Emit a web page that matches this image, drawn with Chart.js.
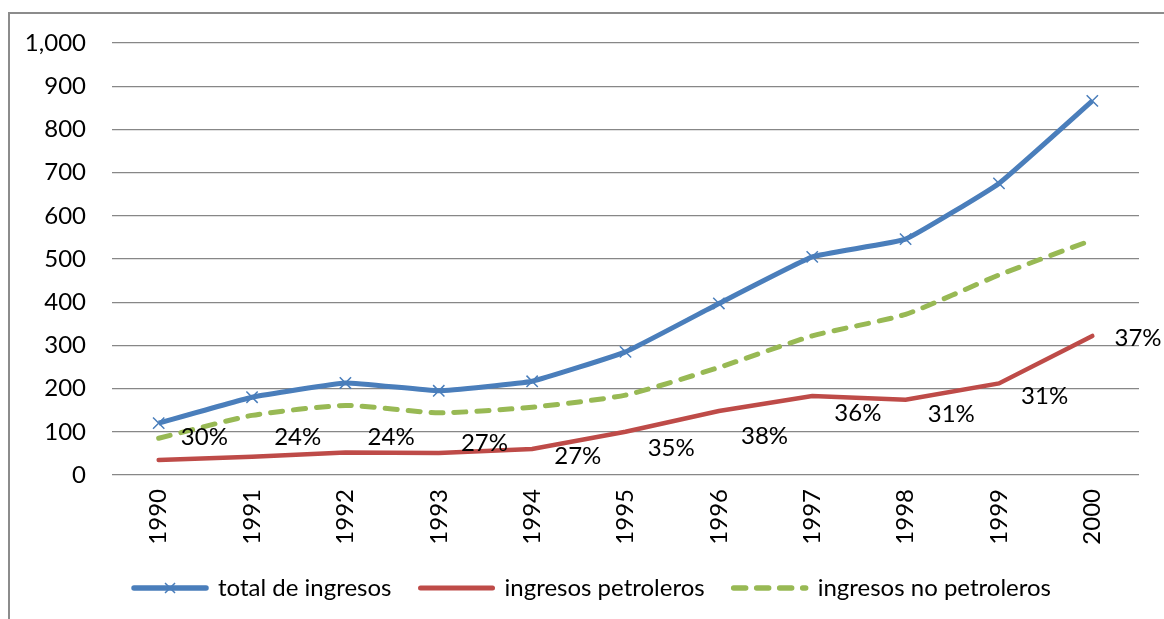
<!DOCTYPE html>
<html>
<head>
<meta charset="utf-8">
<script src="https://cdn.jsdelivr.net/npm/chart.js@4/dist/chart.umd.min.js"></script>
<style>
  body { margin: 0; background: #fff; }
</style>
</head>
<body>
<canvas id="myChart" width="1164" height="619"></canvas>
<script>
//years along the x axis
var years = ['1990', '1991', '1992', '1993', '1994', '1995', '1996', '1997', '1998', '1999', '2000'];

//the three series
var totalIngresos = [120, 180, 213, 195, 217, 285, 397, 505, 546, 675, 866];
var ingresosPetroleros = [35, 42, 52, 51, 60, 100, 148, 183, 174, 212, 322];
var ingresosNoPetroleros = [85, 138, 161, 144, 157, 185, 249, 322, 372, 463, 544];

//oil share labels next to the red line
var participacion = ['30%', '24%', '24%', '27%', '27%', '35%', '38%', '36%', '31%', '31%', '37%'];

//y axis ticks
var yTicks = [0, 100, 200, 300, 400, 500, 600, 700, 800, 900, 1000];

var blue = '#4A7EBB';
var red = '#BE4B48';
var green = '#98B954';
var gridGray = '#878787';

Chart.defaults.font.family = 'Lato';
Chart.defaults.font.size = 24;
Chart.defaults.color = '#000';

//white background and the frame on the left and top
var framePlugin = {
  id: 'frame',
  beforeDraw: function(chart) {
    var c = chart.ctx;
    c.save();
    c.fillStyle = '#fff';
    c.fillRect(0, 0, chart.width, chart.height);
    c.strokeStyle = '#8c8c8c';
    c.lineWidth = 2;
    c.beginPath();
    c.moveTo(9, chart.height);
    c.lineTo(9, 13);
    c.lineTo(chart.width, 13);
    c.stroke();
    c.restore();
  }
};

//nudge the legend a little to the right, like the original
var legendShift = {
  id: 'legendShift',
  afterLayout: function(chart) {
    chart.legend.left += 18;
    chart.legend.right += 18;
  }
};

//percent labels, placed half a category to the right of each red point
var shareLabels = {
  id: 'shareLabels',
  afterDatasetsDraw: function(chart, args, opts) {
    var c = chart.ctx;
    var xs = chart.scales.x, ys = chart.scales.y;
    var half = (xs.getPixelForValue(1) - xs.getPixelForValue(0)) / 2;
    c.save();
    c.font = '24px Lato';
    c.fillStyle = '#000';
    c.textAlign = 'center';
    c.textBaseline = 'middle';
    participacion.forEach(function(txt, i) {
      var x = xs.getPixelForValue(i) + half - 1;
      var y = ys.getPixelForValue(ingresosPetroleros[i]) + opts.dy[i];
      c.fillText(txt, x, y);
    });
    c.restore();
  }
};

//small x marker on the first legend sample
var legendMarker = {
  id: 'legendMarker',
  afterDraw: function(chart) {
    var box = chart.legend.legendHitBoxes[0];
    if (!box) return;
    var c = chart.ctx;
    var cx = box.left + 36;
    var cy = box.top + box.height / 2;
    c.save();
    c.strokeStyle = blue;
    c.lineWidth = 1.5;
    c.beginPath();
    c.moveTo(cx - 5, cy - 5); c.lineTo(cx + 5, cy + 5);
    c.moveTo(cx - 5, cy + 5); c.lineTo(cx + 5, cy - 5);
    c.stroke();
    c.restore();
  }
};

var ctx = document.getElementById('myChart').getContext('2d');

var myChart = new Chart(ctx, {
  type: 'line',
  data: {
    labels: years,
    datasets: [{
      label: 'total de ingresos',
      data: totalIngresos,
      borderColor: blue,
      backgroundColor: blue,
      borderWidth: 5,
      tension: 0.1,
      pointStyle: 'crossRot',
      pointRadius: 8,
      pointBorderWidth: 1.5,
      pointBorderColor: blue,
      order: 1
    }, {
      label: 'ingresos petroleros',
      data: ingresosPetroleros,
      borderColor: red,
      backgroundColor: red,
      borderWidth: 4.5,
      borderCapStyle: 'round',
      tension: 0,
      pointRadius: 0,
      order: 3
    }, {
      label: 'ingresos no petroleros',
      data: ingresosNoPetroleros,
      borderColor: green,
      backgroundColor: green,
      borderWidth: 5,
      borderDash: [12, 11],
      borderCapStyle: 'round',
      tension: 0.2,
      pointRadius: 0,
      order: 2
    }]
  },
  options: {
    responsive: false,
    animation: false,
    layout: {
      padding: { left: 10, right: 25, top: 43, bottom: 9 }
    },
    plugins: {
      legend: {
        position: 'bottom',
        labels: {
          usePointStyle: true,
          pointStyleWidth: 72,
          padding: 29,
          font: { size: 24 },
          generateLabels: function(chart) {
            return chart.data.datasets.map(function(ds, i) {
              return {
                text: ds.label,
                datasetIndex: i,
                pointStyle: 'line',
                strokeStyle: ds.borderColor,
                fillStyle: ds.borderColor,
                lineWidth: ds.borderWidth + 0.5,
                lineCap: 'round',
                lineDash: ds.borderDash || [],
                fontColor: '#000'
              };
            });
          }
        }
      },
      tooltip: { enabled: false },
      shareLabels: {
        dy: [-23, -20, -15, -10, 7, 16, 25, 17, 14, 13, 2]
      }
    },
    scales: {
      x: {
        offset: true,
        grid: { display: false, drawTicks: false },
        border: { display: false },
        ticks: {
          minRotation: 90,
          maxRotation: 90,
          padding: 14,
          font: { size: 24 }
        },
        afterFit: function(scale) { scale.height = 72; }
      },
      y: {
        min: 0,
        max: 1000,
        afterBuildTicks: function(axis) {
          axis.ticks = yTicks.map(function(v) { return { value: v }; });
        },
        grid: { color: gridGray, lineWidth: 1.3, drawTicks: false },
        border: { display: false },
        ticks: {
          padding: 26,
          font: { size: 24 },
          callback: function(v) { return v.toLocaleString('en-US'); }
        },
        afterFit: function(scale) { scale.width = 102; }
      }
    }
  },
  plugins: [framePlugin, legendShift, shareLabels, legendMarker]
});
</script>
</body>
</html>
